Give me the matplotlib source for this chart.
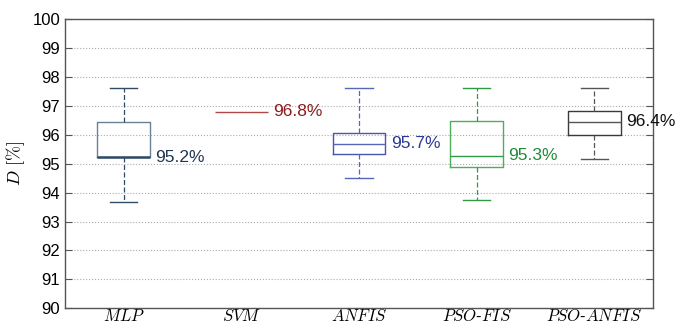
import matplotlib
matplotlib.use("Agg")
import matplotlib.pyplot as plt

plt.rcParams['mathtext.fontset'] = 'cm'
plt.rcParams['font.family'] = ['Liberation Sans', 'DejaVu Sans']

# dados
modelos = ['MLP', 'SVM', 'ANFIS', 'PSO-FIS', 'PSO-ANFIS']
whis_min = [93.68, 96.8, 94.5, 93.75, 95.16]
q1 = [95.23, 96.8, 95.32, 94.87, 96.0]
mediana = [95.23, 96.8, 95.68, 95.28, 96.44]
q3 = [96.45, 96.8, 96.06, 96.46, 96.83]
whis_max = [97.6, 96.8, 97.6, 97.6, 97.6]
rotulos = ['95.2%', '96.8%', '95.7%', '95.3%', '96.4%']

cor_caixa = ['#6b8296', '#b04848', '#4a55b0', '#4fae5c', '#3a3a3a']
cor_linha = ['#2f4b66', '#b04848', '#5a65b8', '#2e9a45', '#555555']
cor_texto = ['#1e3752', '#8c1c1c', '#2b3794', '#1f8c38', '#111111']

fig = plt.figure(figsize=(6.78, 3.27), dpi=100)
ax = fig.add_axes([0.096, 0.057, 0.867, 0.885])

stats = []
for i in range(len(modelos)):
    stats.append({'whislo': whis_min[i], 'q1': q1[i], 'med': mediana[i],
                  'q3': q3[i], 'whishi': whis_max[i], 'fliers': []})

for i, s in enumerate(stats):
    svm = (i == 1)
    ax.bxp([s], positions=[i + 1], widths=0.45, showfliers=False,
           showbox=not svm, showcaps=not svm,
           boxprops=dict(color=cor_caixa[i], linewidth=1.0),
           medianprops=dict(color=cor_linha[i], linewidth=1.8 if i == 0 else 1.0),
           whiskerprops=dict(color=cor_linha[i], linewidth=0.9,
                             linestyle='none' if svm else (0, (4, 2))),
           capprops=dict(color=cor_linha[i], linewidth=1.0),
           capwidths=0.23)
    ax.text(i + 1 + 0.27, mediana[i], rotulos[i], color=cor_texto[i],
            fontsize=12.5, va='center', ha='left')

ax.set_xlim(0.5, 5.5)
ax.set_ylim(90, 100)
ax.set_yticks(range(90, 101))
ax.set_xticks(range(1, 6))
ax.set_xticklabels(['$' + m.replace('-', '$-$') + '$' for m in modelos], fontsize=12)
ax.tick_params(axis='y', labelsize=12, direction='in', right=True, length=5, color='#555555')
ax.tick_params(axis='x', length=0, pad=0)
ax.yaxis.grid(True, linestyle=':', color='#aaaaaa', linewidth=0.8)
ax.set_axisbelow(True)
for sp in ax.spines.values():
    sp.set_color('#555555')
    sp.set_linewidth(1.0)
ax.set_ylabel(r'$D\ [\%]$', fontsize=13, labelpad=4)

plt.savefig('out.png', dpi=100)
plt.close()
